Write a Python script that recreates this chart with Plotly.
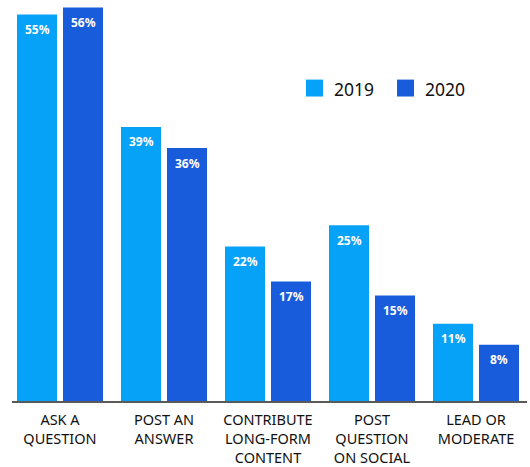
import plotly.graph_objects as go

categories = ["ASK A<br>QUESTION", "POST AN<br>ANSWER", "CONTRIBUTE<br>LONG-FORM<br>CONTENT",
              "POST<br>QUESTION<br>ON SOCIAL", "LEAD OR<br>MODERATE"]
series_names = ["2019", "2020"]
values_2019 = [55, 39, 22, 25, 11]
values_2020 = [56, 36, 17, 15, 8]

colors = {"2019": "#06a2f8", "2020": "#195cdb"}
FONT = "Noto Sans"

# pixel geometry of the grouped bars (category pitch 104 px, bars 40 px, inner gap 6 px)
pitch = 104.0
bar_w = 40 / pitch
offsets = {"2019": -43 / pitch, "2020": 3 / pitch}
label_shift = {"2019": -23, "2020": 23}

# plot area in pixels (for the hand-placed legend)
PL, PW, PH = 12, 515, 403
legend_left = {"2019": 306, "2020": 397}   # swatch left edge, px
SW = 17                                     # swatch size, px
SW_TOP = 80                                 # swatch top, px
TEXT_MID = 89                               # legend text vertical centre, px


def px_x(p):
    return (p - PL) / PW


def px_y(p):
    return (PH - p) / PH


fig = go.Figure()
for name, vals in zip(series_names, [values_2019, values_2020]):
    fig.add_trace(go.Bar(
        x=categories, y=vals, name=name, width=bar_w, offset=offsets[name],
        marker=dict(color=colors[name], line=dict(width=0)), showlegend=False,
    ))
    # value labels inside the top of each bar
    for c, v in zip(categories, vals):
        fig.add_annotation(
            x=c, y=v, text=f"<b>{v}%</b>", showarrow=False, xshift=label_shift[name],
            yshift=-15, font=dict(family=FONT, size=12, color="white"),
            xanchor="center", yanchor="middle",
        )
    # legend: swatch + series name
    lx = legend_left[name]
    fig.add_shape(type="rect", xref="paper", yref="paper",
                  x0=px_x(lx), x1=px_x(lx + SW), y0=px_y(SW_TOP + SW), y1=px_y(SW_TOP),
                  fillcolor=colors[name], line=dict(width=0))
    fig.add_annotation(xref="paper", yref="paper", x=px_x(lx + SW + 9), y=px_y(TEXT_MID),
                       text=name, showarrow=False, xanchor="left", yanchor="middle",
                       font=dict(family=FONT, size=17.5, color="#111111"))

ymax = 57.07
fig.update_layout(
    width=530, height=467,
    margin=dict(l=PL, r=530 - PL - PW, t=0, b=467 - PH),
    paper_bgcolor="white", plot_bgcolor="white",
    barmode="overlay", showlegend=False,
    font=dict(family=FONT, color="#222222"),
    xaxis=dict(range=[-48 / pitch, (527 - 60) / pitch], showline=True, linecolor="#5a5a5a",
               linewidth=2, showgrid=False, ticks="", tickfont=dict(size=14.5, color="#111111"),
               ticklabelstandoff=5, fixedrange=True),
    yaxis=dict(range=[0, ymax], visible=False, showgrid=False, fixedrange=True),
)

fig.write_html("out.html")
